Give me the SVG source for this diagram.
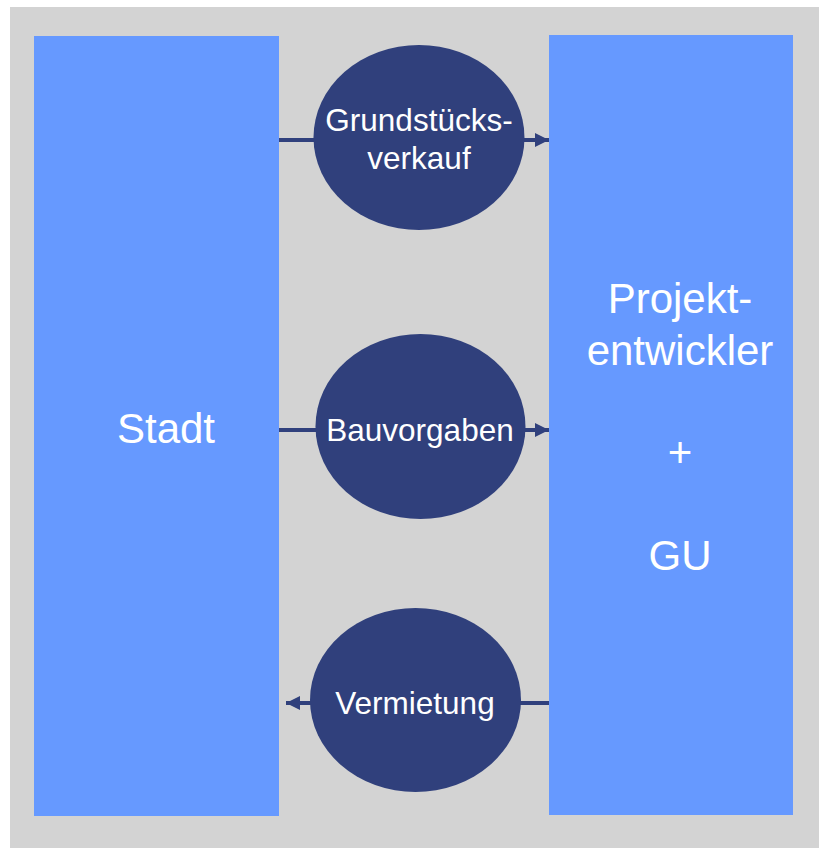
<svg xmlns="http://www.w3.org/2000/svg" width="819" height="848" viewBox="0 0 819 848">
<defs>
<style>
.box{fill:#6699ff;}
.oval{fill:#30407c;}
.t{font-family:"Liberation Sans",Arial,sans-serif;fill:#ffffff;text-anchor:middle;}
.big{font-size:42px;}
.small{font-size:31.5px;}
.conn{stroke:#30407c;stroke-width:4;fill:none;}
</style>
<marker id="ah" viewBox="0 0 10 10" refX="10" refY="5" markerWidth="16" markerHeight="14" markerUnits="userSpaceOnUse" orient="auto">
<path d="M0,0 L10,5 L0,10 Z" fill="#30407c"/>
</marker>
</defs>
<rect x="0" y="0" width="819" height="848" fill="#ffffff"/>
<rect x="10" y="7" width="809" height="841" fill="#d3d3d3"/>
<g id="connectors">
<line class="conn" x1="279" y1="140" x2="549" y2="140" marker-end="url(#ah)"/>
<line class="conn" x1="279" y1="430" x2="549" y2="430" marker-end="url(#ah)"/>
<line class="conn" x1="549" y1="703" x2="286" y2="703" marker-end="url(#ah)"/>
</g>
<g id="stadt">
<rect class="box" x="34" y="36" width="245" height="780"/>
<text class="t big" x="166" y="443">Stadt</text>
</g>
<g id="projektentwickler">
<rect class="box" x="549" y="35" width="244" height="780"/>
<text class="t big" x="680" y="313">Projekt-</text>
<text class="t big" x="680" y="365">entwickler</text>
<text class="t big" x="680" y="467">+</text>
<text class="t big" x="680" y="570">GU</text>
</g>
<g id="grundstuecksverkauf">
<ellipse class="oval" cx="419" cy="137.5" rx="105.5" ry="92.5"/>
<text class="t small" x="419" y="131">Grundstücks-</text>
<text class="t small" x="419" y="169">verkauf</text>
</g>
<g id="bauvorgaben">
<ellipse class="oval" cx="420.5" cy="426.5" rx="105" ry="92.5"/>
<text class="t small" x="420" y="441">Bauvorgaben</text>
</g>
<g id="vermietung">
<ellipse class="oval" cx="415.5" cy="700" rx="105.5" ry="92"/>
<text class="t small" x="415" y="714">Vermietung</text>
</g>
</svg>
